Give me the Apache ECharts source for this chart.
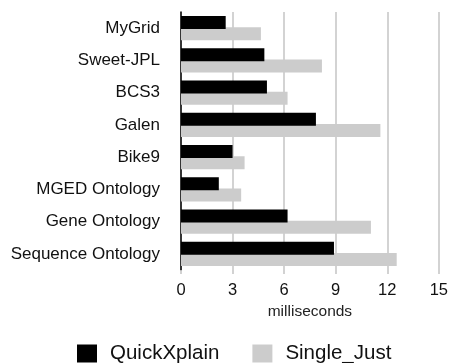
<!DOCTYPE html>
<html>
<head>
<meta charset="utf-8">
<script src="https://cdn.jsdelivr.net/npm/echarts@6/dist/echarts.min.js"></script>
<style>
html,body{margin:0;padding:0;background:#fff;}
#chart{width:451px;height:363px;}
</style>
</head>
<body>
<div id="chart"></div>
<script>
const categories = ["MyGrid","Sweet-JPL","BCS3","Galen","Bike9","MGED Ontology","Gene Ontology","Sequence Ontology"];
const quickXplain = [2.6, 4.85, 5.0, 7.85, 3.0, 2.2, 6.2, 8.9];
const singleJust = [4.65, 8.2, 6.2, 11.6, 3.7, 3.5, 11.05, 12.55];
const xTicks = [0, 3, 6, 9, 12, 15];

const FONT = '"Liberation Sans", Arial, Helvetica, sans-serif';
const chart = echarts.init(document.getElementById('chart'), null, {renderer:'canvas'});
chart.setOption({
  animation: false,
  backgroundColor: '#fff',
  grid: {left: 181, right: 9, top: 12, bottom: 93, containLabel: false},
  xAxis: {
    type: 'value', min: xTicks[0], max: xTicks[xTicks.length-1], interval: 3,
    name: 'milliseconds', nameLocation: 'middle', nameGap: 34,
    nameTextStyle: {fontFamily: FONT, fontSize: 15.5, color: '#222'},
    axisLine: {show: false},
    axisTick: {show: true, length: 4, lineStyle: {color: '#c4c4c4', width: 1.5}},
    axisLabel: {fontFamily: FONT, fontSize: 16.5, color: '#111', margin: 12},
    splitLine: {show: true, lineStyle: {color: '#c4c4c4', width: 1.5}}
  },
  yAxis: {
    type: 'category', data: categories, inverse: true,
    axisLine: {show: true, lineStyle: {color: '#000', width: 1.5}},
    axisTick: {show: false},
    axisLabel: {fontFamily: FONT, fontSize: 17, color: '#111', margin: 21}
  },
  legend: {
    left: 72, top: 338, itemWidth: 20, itemHeight: 18, itemGap: 33,
    icon: 'rect',
    textStyle: {fontFamily: FONT, fontSize: 20.5, color: '#111', padding: [0,0,0,8]},
    data: ['QuickXplain', 'Single_Just']
  },
  series: [
    {name: 'QuickXplain', type: 'bar', data: quickXplain, barWidth: 13, barGap: '-15%', z: 3,
     itemStyle: {color: '#000'}},
    {name: 'Single_Just', type: 'bar', data: singleJust, barWidth: 13, barGap: '-15%', z: 2,
     itemStyle: {color: '#cccccc'}}
  ]
});
</script>
</body>
</html>
